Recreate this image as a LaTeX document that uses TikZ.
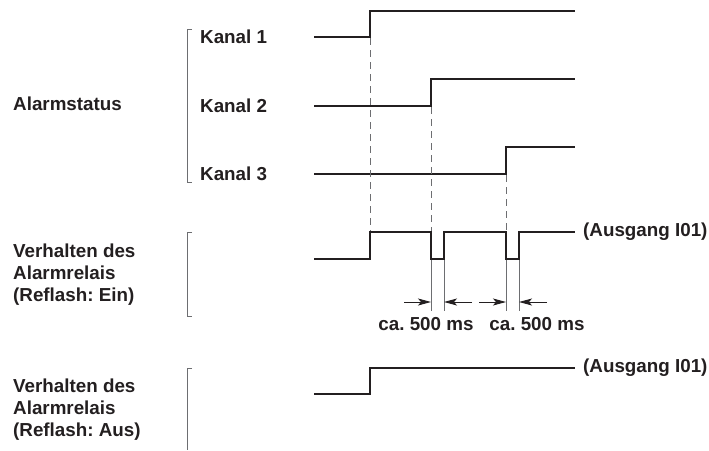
\documentclass[tikz,border=0pt]{standalone}
\usepackage{fontspec}
\setmainfont{Liberation Sans}
\frenchspacing
\usetikzlibrary{arrows.meta}
\definecolor{ink}{HTML}{231F20}
\definecolor{guide}{HTML}{6D6E71}
\tikzset{
  lbl/.style={font=\fontsize{18.8}{22}\selectfont\bfseries, text=ink, inner sep=0pt},
  signal/.style={draw=ink, line width=1.9pt, line join=miter},
  brace/.style={draw=guide, line width=0.8pt},
  guideline/.style={draw=guide, line width=0.8pt, dash pattern=on 7pt off 5pt},
  marker/.style={draw=guide, line width=0.7pt},
  dimarrow/.style={draw=ink, line width=0.9pt, -{Stealth[length=13pt,width=7pt,inset=3pt]}},
}
\begin{document}
\begin{tikzpicture}[x=1pt, y=-1pt]
\useasboundingbox (0,0) rectangle (709,450);

% ---- left labels ----
\node[lbl, anchor=base west] (alarm) at (13,110) {Alarmstatus};
\node[lbl, anchor=west, align=left] (ein) at (13,275)
  {Verhalten des\\Alarmrelais\\(Reflash: Ein)};
\node[lbl, anchor=west, align=left] (aus) at (13,410)
  {Verhalten des\\Alarmrelais\\(Reflash: Aus)};

% ---- channel labels ----
\node[lbl, anchor=west] (k1) at (200,37) {Kanal 1};
\node[lbl, anchor=west] (k2) at (200,106) {Kanal 2};
\node[lbl, anchor=west] (k3) at (200,174) {Kanal 3};

% ---- brackets ----
\draw[brace] (192,29) -- (187,29) -- (187,182) -- (192,182);
\draw[brace] (192,232) -- (187,232) -- (187,316) -- (192,316);
\draw[brace] (192,368) -- (187,368) -- (187,450);

% ---- switching instants ----
\coordinate (t1) at (370,0);
\coordinate (t2) at (431,0);
\coordinate (t3) at (506,0);
\coordinate (r2) at (444,0);
\coordinate (r3) at (519,0);

% ---- channel signals ----
\draw[signal] (314,37) -- (t1 |- 0,37) -- (t1 |- 0,11) -- (575,11);
\draw[signal] (314,106) -- (t2 |- 0,106) -- (t2 |- 0,79) -- (575,79);
\draw[signal] (314,174) -- (t3 |- 0,174) -- (t3 |- 0,147) -- (575,147);

% ---- relay, reflash on ----
\draw[signal] (314,259) -- (t1 |- 0,259) -- (t1 |- 0,232)
  -- (t2 |- 0,232) -- (t2 |- 0,259) -- (r2 |- 0,259) -- (r2 |- 0,232)
  -- (t3 |- 0,232) -- (t3 |- 0,259) -- (r3 |- 0,259) -- (r3 |- 0,232)
  -- (575,232);
\node[lbl, anchor=west] (out1) at (583,232) {(Ausgang I01)};

% ---- relay, reflash off ----
\draw[signal] (314,394) -- (t1 |- 0,394) -- (t1 |- 0,368) -- (575,368);
\node[lbl, anchor=west] (out2) at (583,368) {(Ausgang I01)};

% ---- dashed guides from channel edges down to relay ----
\draw[guideline] (t1 |- 0,38) -- (t1 |- 0,231);
\draw[guideline] (t2 |- 0,107) -- (t2 |- 0,231);
\draw[guideline] (t3 |- 0,175) -- (t3 |- 0,231);

% ---- pulse width markers ----
\foreach \p in {t2,r2,t3,r3}
  \draw[marker] (\p |- 0,260) -- (\p |- 0,311);

\coordinate (a1) at (404,302);
\coordinate (b1) at (472,302);
\coordinate (a2) at (479,302);
\coordinate (b2) at (547,302);
\draw[dimarrow] (a1) -- (t2 |- a1);
\draw[dimarrow] (b1) -- (r2 |- b1);
\draw[dimarrow] (a2) -- (t3 |- a2);
\draw[dimarrow] (b2) -- (r3 |- b2);

\node[lbl] (w1) at (426,324) {ca. 500 ms};
\node[lbl] (w2) at (537,324) {ca. 500 ms};
\end{tikzpicture}
\end{document}
